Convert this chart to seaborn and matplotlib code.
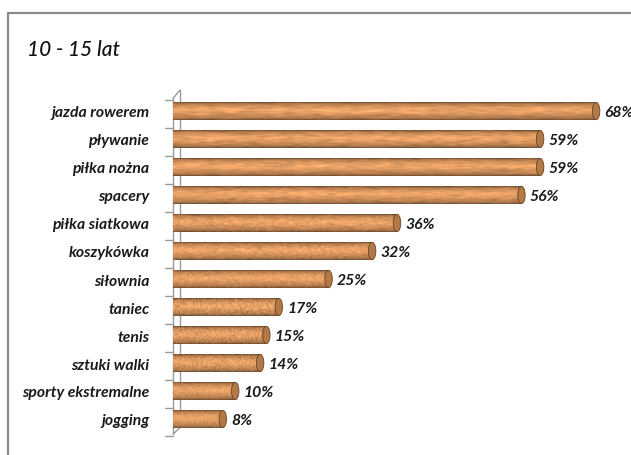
import numpy as np
import matplotlib
matplotlib.use("Agg")
import matplotlib.pyplot as plt
from matplotlib.patches import Rectangle, Ellipse
from matplotlib.transforms import ScaledTranslation, blended_transform_factory
import seaborn as sns

title = "10 - 15 lat"
categories = ["jazda rowerem", "pływanie", "piłka nożna", "spacery", "piłka siatkowa",
              "koszykówka", "siłownia", "taniec", "tenis", "sztuki walki",
              "sporty ekstremalne", "jogging"]
values = [68, 59, 59, 56, 36, 32, 25, 17, 15, 14, 10, 8]

sns.set_theme(style="white")
plt.rcParams["font.family"] = ["Lato", "DejaVu Sans"]

W, H = 631, 456
fig = plt.figure(figsize=(W / 100, H / 100), dpi=100)
fig.patch.set_facecolor("white")

# chart frame
fig.patches.append(Rectangle((8 / W, -0.2), 1.2, 1.2 - 14 / H, transform=fig.transFigure,
                             fill=False, edgecolor="#8a8a8a", linewidth=1.6, zorder=0))

AX_W = 448
ax = fig.add_axes([173 / W, 1 - 436.8 / H, AX_W / W, (436.8 - 92.4) / H])
ax.set_facecolor("none")

sns.barplot(x=values, y=categories, orient="h", ax=ax, width=0.64,
            color="#d49a68", saturation=1, edgecolor="none")
ax.set_xlim(0, 72)
ax.set_ylim(11.6, -0.7)

for s in ax.spines.values():
    s.set_visible(False)
ax.set_xticks([])
ax.set_xlabel("")
ax.set_ylabel("")
ax.tick_params(axis="y", length=0, pad=17)
for lab in ax.get_yticklabels():
    lab.set_fontsize(11.3)
    lab.set_fontweight("bold")
    lab.set_fontstyle("italic")
    lab.set_color("#1a1a1a")

# 3D-like wall of the category axis
grey = "#9a9a9a"
trans_y = blended_transform_factory(ax.transAxes, ax.transData)
shift = ScaledTranslation(7 / 100, 0, fig.dpi_scale_trans)
ax.plot([0, 0], [-0.75, 11.3], transform=trans_y + shift, color=grey, lw=1.0, clip_on=False)
ax.plot([0, 0], [-0.5, 11.55], transform=trans_y, color=grey, lw=1.0, clip_on=False)
ax.plot([0, 7 / AX_W], [-0.45, -0.75], transform=trans_y, color=grey, lw=1.0, clip_on=False)
ax.plot([0, 7 / AX_W], [11.55, 11.3], transform=trans_y, color=grey, lw=1.0, clip_on=False)
for i in range(len(categories) + 1):
    ax.plot([-8 / AX_W, 0], [i - 0.4, i - 0.4], transform=trans_y, color=grey, lw=1.0,
            clip_on=False)

# wood-grain cylinder texture
rng = np.random.default_rng(7)
ny, nx = 48, 600
yy = np.linspace(0, 1, ny)[:, None]
shade = 0.80 + 0.28 * np.exp(-((yy - 0.45) / 0.30) ** 2)
edge = np.clip(1 - np.abs((yy - 0.5) / 0.5) ** 8, 0.0, 1)
shade = shade * (0.58 + 0.42 * edge)

def grain(ncols):
    coarse = rng.normal(size=(ny, max(ncols, 4)))
    xs = np.linspace(0, coarse.shape[1] - 1, nx)
    fine = np.empty((ny, nx))
    for r in range(ny):
        fine[r] = np.interp(xs, np.arange(coarse.shape[1]), coarse[r])
    k = np.array([0.25, 0.5, 0.25])
    for c in range(nx):
        fine[:, c] = np.convolve(fine[:, c], k, mode="same")
    return fine

base = np.array([0.87, 0.60, 0.38])
for patch, v in zip(ax.patches, values):
    x0, y0, w, h = patch.get_x(), patch.get_y(), patch.get_width(), patch.get_height()
    ncols = int(30 * 68 / max(v, 1) ** 0.9)
    g = grain(ncols)
    spots = 0.11 + 0.10 * (v < 20)
    bright = shade * (1 + spots * g)
    img = np.clip(base[None, None, :] * bright[..., None], 0, 1)
    im = ax.imshow(img, extent=[x0, x0 + w, y0 + h, y0], aspect="auto",
                   interpolation="bilinear", zorder=3)
    im.set_clip_path(patch)
    cap = Ellipse((x0 + w, y0 + h / 2), width=1.2, height=h * 0.97,
                  facecolor="#b37848", edgecolor="#6a4324", linewidth=0.6, zorder=4)
    ax.add_patch(cap)
    ax.annotate(f"{v}%", xy=(x0 + w, y0 + h / 2), xytext=(6, -1), textcoords="offset points",
                ha="left", va="center", fontsize=11.3, fontweight="bold", fontstyle="italic",
                color="#1a1a1a", annotation_clip=False, zorder=5)
    patch.set_facecolor("none")

fig.text(27 / W, 1 - 50 / H, title, ha="left", va="center", fontsize=15,
         fontstyle="italic", fontweight="medium", color="#111111")

fig.savefig("out.png", dpi=100)
